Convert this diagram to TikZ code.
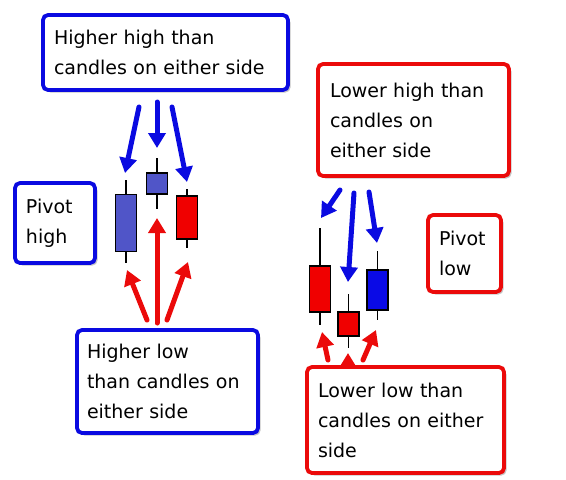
\documentclass[tikz,border=0pt]{standalone}
\usepackage{fontspec}
\setmainfont{DejaVu Sans}
\usetikzlibrary{arrows.meta, shadows}
\definecolor{pivblue}{RGB}{10,10,225}
\definecolor{pivred}{RGB}{235,10,10}
\definecolor{candleslate}{RGB}{80,85,200}
\definecolor{candlered}{RGB}{240,0,0}
\definecolor{candleblue}{RGB}{10,10,230}
\tikzset{
    box/.style={rectangle, rounded corners=5pt, draw=#1, fill=white, line width=3.8pt, align=left, inner sep=0pt, font=\fontsize{19}{30}\selectfont, drop shadow={opacity=0.45, shadow xshift=2.5pt, shadow yshift=-2.5pt}},
    candle/.style={rectangle, draw=black, fill=#1, line width=1.6pt, inner sep=0pt, minimum width=21pt},
    wick/.style={draw=black, line width=1.6pt},
    blueptr/.style={-{Triangle[length=15pt, width=17pt]}, line width=5pt, line cap=round, color=pivblue},
    redptr/.style={-{Triangle[length=15pt, width=17pt]}, line width=5pt, line cap=round, color=pivred}
}
\begin{document}
\begin{tikzpicture}[x=1pt, y=-1pt]
    \useasboundingbox (0,0) rectangle (566,480);

    % Pivot high candles
    \node[candle=candleslate, minimum height=57pt] (hc1) at (126,223) {};
    \node[candle=candleslate, minimum height=21pt] (hc2) at (157,183.5) {};
    \node[candle=candlered, minimum height=43pt] (hc3) at (187,217.5) {};
    \coordinate (hc1top) at (126,180);  \coordinate (hc1bot) at (126,263);
    \coordinate (hc2top) at (157,158);  \coordinate (hc2bot) at (157,209);
    \coordinate (hc3top) at (187,189);  \coordinate (hc3bot) at (187,248);
    \draw[wick] (hc1.north) -- (hc1top) (hc1.south) -- (hc1bot);
    \draw[wick] (hc2.north) -- (hc2top) (hc2.south) -- (hc2bot);
    \draw[wick] (hc3.north) -- (hc3top) (hc3.south) -- (hc3bot);

    % Pivot low candles
    \node[candle=candlered, minimum height=46pt] (lc1) at (320,289) {};
    \node[candle=candlered, minimum height=24pt] (lc2) at (348.5,324) {};
    \node[candle=candleblue, minimum height=40pt] (lc3) at (377.5,290) {};
    \coordinate (lc1top) at (320,228);    \coordinate (lc1bot) at (320,325);
    \coordinate (lc2top) at (348.5,294);  \coordinate (lc2bot) at (348.5,348);
    \coordinate (lc3top) at (377.5,251);  \coordinate (lc3bot) at (377.5,320);
    \draw[wick] (lc1.north) -- (lc1top) (lc1.south) -- (lc1bot);
    \draw[wick] (lc2.north) -- (lc2top) (lc2.south) -- (lc2bot);
    \draw[wick] (lc3.north) -- (lc3top) (lc3.south) -- (lc3bot);

    % Arrow ends
    \coordinate (hhA) at (139,107);  \coordinate (hhAtip) at (125,173);
    \coordinate (hhB) at (157,102);  \coordinate (hhBtip) at (157,148);
    \coordinate (hhC) at (172,107);  \coordinate (hhCtip) at (187,182);
    \coordinate (hlA) at (147,320);  \coordinate (hlAtip) at (127,270);
    \coordinate (hlB) at (157,323);  \coordinate (hlBtip) at (157,218);
    \coordinate (hlC) at (167,320);  \coordinate (hlCtip) at (188,262);
    \coordinate (lhA) at (340,190);  \coordinate (lhAtip) at (321,218);
    \coordinate (lhB) at (354,193);  \coordinate (lhBtip) at (348,282);
    \coordinate (lhC) at (369,192);  \coordinate (lhCtip) at (377,243);
    \coordinate (llA) at (328,360);  \coordinate (llAtip) at (322,332);
    \coordinate (llB) at (348,372);  \coordinate (llBtip) at (348,353);
    \coordinate (llC) at (363,360);  \coordinate (llCtip) at (376,330);

    \draw[blueptr] (hhA) -- (hhAtip);
    \draw[blueptr] (hhB) -- (hhBtip);
    \draw[blueptr] (hhC) -- (hhCtip);
    \draw[redptr] (hlA) -- (hlAtip);
    \draw[redptr] (hlB) -- (hlBtip);
    \draw[redptr] (hlC) -- (hlCtip);
    \draw[blueptr] (lhA) -- (lhAtip);
    \draw[blueptr] (lhB) -- (lhBtip);
    \draw[blueptr] (lhC) -- (lhCtip);
    \draw[redptr] (llA) -- (llAtip);
    \draw[redptr] (llB) -- (llBtip);
    \draw[redptr] (llC) -- (llCtip);

    % Labels
    \node[box=pivblue, minimum width=245pt, minimum height=75pt, text width=223pt] (higherhigh) at (165.5,52.5) {Higher high than\\candles on either side};
    \node[box=pivblue, minimum width=80pt, minimum height=80pt, text width=58pt] (pivothigh) at (55,223) {Pivot\\high};
    \node[box=pivblue, minimum width=181pt, minimum height=103pt, text width=161pt] (higherlow) at (167.5,381.5) {Higher low\\than candles on\\either side};
    \node[box=pivred, minimum width=191pt, minimum height=112pt, text width=167pt] (lowerhigh) at (413.5,120) {Lower high than\\candles on\\either side};
    \node[box=pivred, minimum width=73pt, minimum height=77pt, text width=51pt] (pivotlow) at (464.5,253.5) {Pivot\\low};
    \node[box=pivred, minimum width=197pt, minimum height=106pt, text width=175pt] (lowerlow) at (405.5,420) {Lower low than\\candles on either\\side};
\end{tikzpicture}
\end{document}
